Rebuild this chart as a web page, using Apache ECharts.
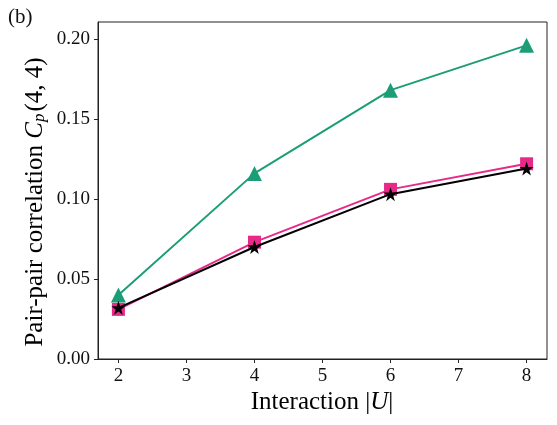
<!DOCTYPE html>
<html><head><meta charset="utf-8">
<script src="https://cdn.jsdelivr.net/npm/echarts@6/dist/echarts.min.js"></script>
<style>html,body{margin:0;padding:0;background:#fff}#c{width:557px;height:425px}</style>
</head><body><div id="c"></div>
<script>
const xValues = [2, 4, 6, 8];
const greenTri = [0.040, 0.116, 0.168, 0.196];
const pinkSq = [0.031, 0.073, 0.106, 0.122];
const blackStar = [0.032, 0.070, 0.103, 0.119];
const xTicks = [2, 3, 4, 5, 6, 7, 8];
const yTicks = [0, 0.05, 0.10, 0.15, 0.20];

const FONT = 'Liberation Serif';
const chart = echarts.init(document.getElementById('c'), null, {renderer: 'canvas'});
const pair = arr => xValues.map((x, i) => [x, arr[i]]);
const starPath = 'path://M50,0 L61.8,35.4 L99,35.4 L69,57.3 L80.4,92.7 L50,70.8 L19.6,92.7 L31,57.3 L1,35.4 L38.2,35.4 Z';

chart.setOption({
  animation: false,
  grid: {left: 98, right: 10, top: 22, bottom: 66, show: true, borderColor: '#222', borderWidth: 1, backgroundColor: 'transparent'},
  xAxis: {
    type: 'value', min: 1.7, max: 8.3,
    axisLine: {show: true, onZero: false, lineStyle: {color: '#222', width: 1}},
    axisTick: {show: true, inside: false, length: 4, lineStyle: {color: '#222'}, customValues: xTicks},
    axisLabel: {customValues: xTicks, fontFamily: FONT, fontSize: 19, color: '#111', margin: 8, formatter: v => String(Math.round(v))},
    splitLine: {show: false}
  },
  yAxis: {
    type: 'value', min: 0, max: 0.2106,
    axisLine: {show: true, lineStyle: {color: '#222', width: 1}},
    axisTick: {show: true, inside: false, length: 4, lineStyle: {color: '#222'}, customValues: yTicks},
    axisLabel: {customValues: yTicks, fontFamily: FONT, fontSize: 19, color: '#111', margin: 8, formatter: v => v.toFixed(2)},
    splitLine: {show: false}
  },
  graphic: [
    {type: 'text', left: 8, top: 7, style: {text: '(b)', fontFamily: FONT, fontSize: 21, fill: '#111'}},
    {type: 'text', x: 322, y: 402, style: {
      text: '{a|Interaction |}{i|U}{a||}', align: 'center', verticalAlign: 'middle',
      rich: {a: {fontFamily: FONT, fontSize: 25, color: '#111'}, i: {fontFamily: FONT, fontSize: 25, fontStyle: 'italic', color: '#111'}}
    }},
    {type: 'text', x: 35, y: 202, rotation: Math.PI / 2, style: {
      text: '{a|Pair-pair correlation }{i|C}{s|p}{a|(4, 4)}', align: 'center', verticalAlign: 'middle',
      rich: {
        a: {fontFamily: FONT, fontSize: 25, color: '#111'},
        i: {fontFamily: FONT, fontSize: 25, fontStyle: 'italic', color: '#111'},
        s: {fontFamily: FONT, fontSize: 17, fontStyle: 'italic', color: '#111', padding: [10, 2, 0, 0]}
      }
    }}
  ],
  series: [
    {type: 'line', data: pair(greenTri), symbol: 'triangle', symbolSize: 15,
      lineStyle: {color: '#1b9e77', width: 2}, itemStyle: {color: '#1b9e77'}, z: 2},
    {type: 'line', data: pair(pinkSq), symbol: 'rect', symbolSize: 13,
      lineStyle: {color: '#e7298a', width: 2}, itemStyle: {color: '#e7298a'}, z: 3},
    {type: 'line', data: pair(blackStar), symbol: starPath, symbolSize: 14,
      lineStyle: {color: '#000', width: 2}, itemStyle: {color: '#000'}, z: 4}
  ]
});
</script></body></html>
